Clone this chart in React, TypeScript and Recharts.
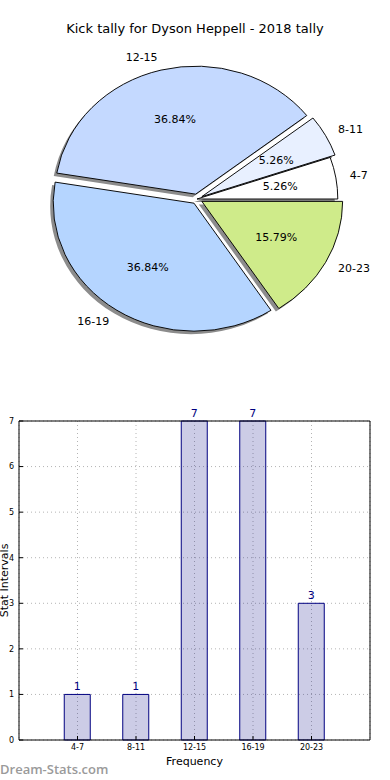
import React from "react"
import {
  PieChart,
  Pie,
  Cell,
  Sector,
  BarChart,
  Bar,
  XAxis,
  YAxis,
  CartesianGrid,
  LabelList,
  ReferenceLine,
} from "recharts"

const categories = ["4-7", "8-11", "12-15", "16-19", "20-23"]
const tally = [1, 1, 7, 7, 3]
const yTicks = [0, 1, 2, 3, 4, 5, 6, 7]
const sliceColors = ["#ffffff", "#e8f0ff", "#c4d9ff", "#b5d5ff", "#cfeb8a"]

// pie slice offsets (px), matplotlib-ish explode
const explode = [0, 5, 5, 5, 5]

const pieData = categories.map((name, i) => ({ name, value: tally[i] }))
const barData = categories.map((name, i) => ({ pos: i + 1, name, value: tally[i] }))

const FONT = "'DejaVu Sans', Verdana, sans-serif"
const SX = 1.1
const RAD = Math.PI / 180

function slicePath(props: any, shadow: boolean) {
  const { cx, cy, midAngle, index, innerRadius, outerRadius, startAngle, endAngle, fill } = props
  const e = explode[index] || 0
  const dx = e * Math.cos(midAngle * RAD)
  const dy = -e * Math.sin(midAngle * RAD)
  const shift = shadow ? "translate(-3 3) " : ""
  return (
    <g transform={`${shift}translate(${cx} ${cy}) scale(${SX} 1) translate(${-cx} ${-cy})`}>
      <Sector
        cx={cx + dx}
        cy={cy + dy}
        innerRadius={innerRadius}
        outerRadius={outerRadius}
        startAngle={startAngle}
        endAngle={endAngle}
        fill={shadow ? "#8c8c8c" : fill}
        stroke={shadow ? "none" : "#000"}
        strokeWidth={shadow ? 0 : 0.9}
      />
    </g>
  )
}

const renderSlice = (props: any) => slicePath(props, false)
const renderShadow = (props: any) => slicePath(props, true)

const renderLabels = (props: any) => {
  const { cx, cy, midAngle, outerRadius, percent, index } = props
  const cos = Math.cos(midAngle * RAD)
  const sin = Math.sin(midAngle * RAD)
  const e = explode[index] || 0
  const ox = cx + SX * e * cos
  const oy = cy - e * sin
  const lx = ox + 1.1 * outerRadius * SX * cos
  const ly = oy - 1.1 * outerRadius * sin
  const px = ox + 0.6 * outerRadius * SX * cos
  const py = oy - 0.6 * outerRadius * sin
  return (
    <g>
      <text x={lx} y={ly} textAnchor={cos >= 0 ? "start" : "end"} dominantBaseline="central" fontSize={11} fontFamily={FONT} fill="#000">
        {categories[index]}
      </text>
      <text x={px} y={py} textAnchor="middle" dominantBaseline="central" fontSize={11} fontFamily={FONT} fill="#000">
        {(percent * 100).toFixed(2)}%
      </text>
    </g>
  )
}

export default function App() {
  return (
    <div style={{ position: "absolute", left: 0, top: 0, width: 390, height: 780, background: "#fff", overflow: "hidden" }}>
      <div
        style={{
          position: "absolute",
          top: 21,
          left: 0,
          width: 390,
          textAlign: "center",
          fontFamily: FONT,
          fontSize: 13,
          color: "#000",
        }}
      >
        Kick tally for Dyson Heppell - 2018 tally
      </div>

      <div style={{ position: "absolute", top: 0, left: 0 }}>
        <PieChart width={390} height={390} margin={{ top: 0, right: 0, bottom: 0, left: 0 }}>
          <Pie
            data={pieData}
            dataKey="value"
            nameKey="name"
            cx={197}
            cy={199}
            outerRadius={128}
            startAngle={0}
            endAngle={360}
            shape={renderShadow}
            inactiveShape={renderShadow}
            activeShape={renderShadow}
            isAnimationActive={false}
          >
            {pieData.map((d) => (
              <Cell key={d.name} fill="#8c8c8c" />
            ))}
          </Pie>
          <Pie
            data={pieData}
            dataKey="value"
            nameKey="name"
            cx={197}
            cy={199}
            outerRadius={128}
            startAngle={0}
            endAngle={360}
            shape={renderSlice}
            inactiveShape={renderSlice}
            activeShape={renderSlice}
            label={renderLabels}
            labelLine={false}
            isAnimationActive={false}
          >
            {pieData.map((d, i) => (
              <Cell key={d.name} fill={sliceColors[i]} />
            ))}
          </Pie>
        </PieChart>
      </div>

      <div style={{ position: "absolute", top: 400, left: 0 }}>
        <BarChart width={390} height={380} data={barData} margin={{ top: 21, right: 20, bottom: 0, left: 0 }}>
          <CartesianGrid stroke="#b4b4b4" strokeDasharray="1 3" />
          <XAxis
            dataKey="pos"
            type="number"
            domain={[0, 6]}
            ticks={[1, 2, 3, 4, 5]}
            tickFormatter={(v: number) => categories[v - 1]}
            height={40}
            tickLine={{ stroke: "#000" }}
            tickSize={-4}
            tickMargin={8}
            axisLine={{ stroke: "#000" }}
            tick={{ fontSize: 8, fontFamily: FONT, fill: "#000" }}
            label={{ value: "Frequency", position: "center", dy: 1, fontSize: 11, fontFamily: FONT, fill: "#000" }}
          />
          <YAxis
            domain={[0, 7]}
            ticks={yTicks}
            width={19}
            tickLine={{ stroke: "#000" }}
            tickSize={-4}
            tickMargin={9}
            axisLine={{ stroke: "#000" }}
            tick={{ fontSize: 8, fontFamily: FONT, fill: "#000" }}
            label={{ value: "Stat Intervals", angle: -90, position: "center", dx: -5, fontSize: 11, fontFamily: FONT, fill: "#000" }}
          />
          <ReferenceLine y={7} stroke="#000" />
          <ReferenceLine x={6} stroke="#000" />
          <Bar dataKey="value" barSize={26} fill="#000080" fillOpacity={0.2} stroke="#000080" strokeWidth={1} isAnimationActive={false}>
            <LabelList dataKey="value" position="top" offset={4} fill="#000080" fontSize={11} fontFamily={FONT} />
          </Bar>
        </BarChart>
      </div>

      <div
        style={{
          position: "absolute",
          left: 0,
          top: 761,
          fontFamily: "'Open Sans', sans-serif",
          fontSize: 13,
          color: "#9a9a9a",
          fontWeight: 600,
          lineHeight: "16px",
        }}
      >
        Dream-Stats.com
      </div>
    </div>
  )
}
